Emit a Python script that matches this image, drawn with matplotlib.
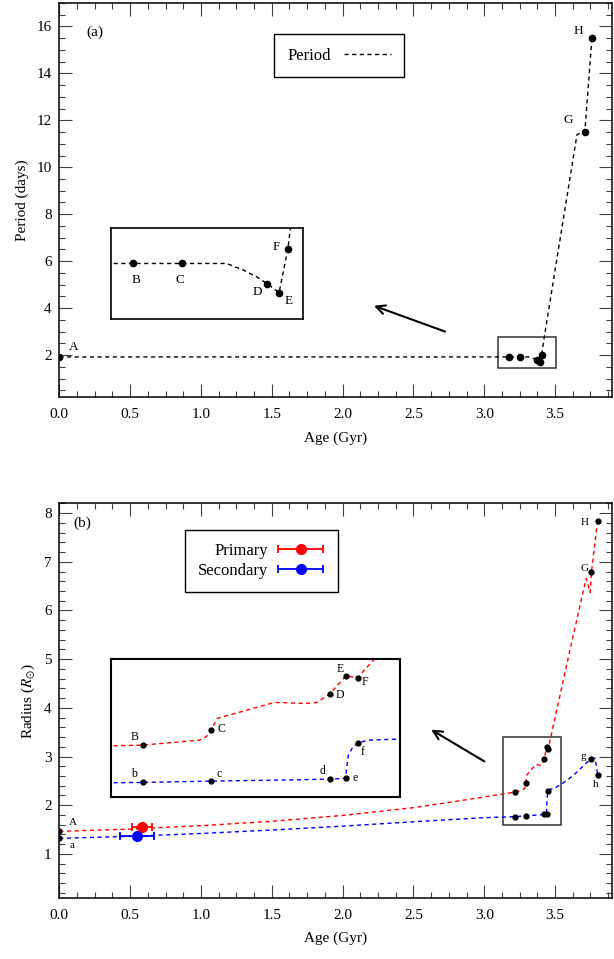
import matplotlib
matplotlib.use('Agg')
import matplotlib.pyplot as plt
from matplotlib.patches import Rectangle
from matplotlib.ticker import MultipleLocator, FormatStrFormatter
from matplotlib.container import ErrorbarContainer
from matplotlib.legend_handler import HandlerErrorbar

plt.rcParams['font.family'] = ['Liberation Serif', 'DejaVu Serif']
plt.rcParams['mathtext.fontset'] = 'stix'

# ---- panel (a): orbital period track ----
age_p = [0.0, 3.178, 3.249, 3.315, 3.340, 3.359, 3.375, 3.392, 3.405, 3.43, 3.655, 3.71, 3.76]
period = [1.92, 1.92, 1.92, 1.92, 1.874, 1.829, 1.78, 1.72, 2.02, 3.0, 11.4, 11.5, 15.5]

pt_names_p = ['A', 'B', 'C', 'D', 'E', 'F', 'G', 'H']
pt_age_p = [0.0, 3.178, 3.249, 3.375, 3.392, 3.405, 3.71, 3.76]
pt_period = [1.92, 1.92, 1.92, 1.78, 1.72, 2.02, 11.5, 15.5]

# ---- panel (b): radius tracks ----
age_r1 = [0.0, 0.5, 1.0, 1.5, 2.0, 2.5, 2.8, 3.0, 3.186, 3.220, 3.282, 3.289, 3.294, 3.301,
          3.320, 3.363, 3.396, 3.409, 3.423, 3.440, 3.453, 3.470, 3.619, 3.720, 3.748, 3.757, 3.800]
rad1 = [1.463, 1.51, 1.58, 1.67, 1.79, 1.95, 2.08, 2.17, 2.256, 2.265, 2.332, 2.377, 2.466, 2.622,
        2.688, 2.836, 2.822, 2.836, 2.950, 3.188, 3.165, 3.40, 5.37, 6.66, 6.37, 6.79, 7.84]

age_r2 = [0.0, 0.5, 1.0, 1.5, 2.0, 2.5, 3.0, 3.186, 3.220, 3.294, 3.390, 3.423, 3.440, 3.441,
          3.443, 3.448, 3.453, 3.463, 3.495, 3.583, 3.654, 3.725, 3.757, 3.783, 3.800]
rad2 = [1.32, 1.36, 1.42, 1.49, 1.57, 1.66, 1.745, 1.762, 1.766, 1.784, 1.802, 1.811, 1.820, 1.954,
        2.132, 2.243, 2.288, 2.33, 2.345, 2.506, 2.68, 2.88, 2.945, 2.97, 2.63]

pt_names_1 = ['A', 'B', 'C', 'D', 'E', 'F', 'G', 'H']
pt_age_1 = [0.0, 3.220, 3.294, 3.423, 3.440, 3.453, 3.757, 3.800]
pt_rad1 = [1.463, 2.265, 2.466, 2.950, 3.188, 3.165, 6.79, 7.84]

pt_names_2 = ['a', 'b', 'c', 'd', 'e', 'f', 'g', 'h']
pt_age_2 = [0.0, 3.220, 3.294, 3.423, 3.440, 3.453, 3.757, 3.800]
pt_rad2 = [1.32, 1.766, 1.784, 1.811, 1.820, 2.288, 2.945, 2.63]

# observed components
obs_names = ['Primary', 'Secondary']
obs_age = [0.585, 0.549]
obs_age_err = [0.07, 0.12]
obs_rad = [1.545, 1.37]
obs_colors = ['red', 'blue']

DASH = (0, (3, 2.5))

# label offsets (points) for the model points
off_main_a = {'A': (10, 7), 'G': (-12, 8.5), 'H': (-10, 5.5)}
off_ins_a = {'B': (2, -12), 'C': (-1, -12), 'D': (-7, -6), 'E': (7, -6), 'F': (-8.5, 1)}
off_main_b = {'A': (10, 6.5), 'a': (9, -5), 'G': (-5, 2.5), 'H': (-9.5, -1.5),
              'g': (-6, 2), 'h': (-1, -7.5)}
off_ins_b = {'B': (-6, 5.5), 'C': (7.5, 0.5), 'D': (7, -0.5), 'E': (-4, 5), 'F': (5, -3),
             'b': (-6.5, 6), 'c': (6, 5), 'd': (-5, 5.5), 'e': (7, 0.5), 'f': (3.5, -6)}


def style_axes(ax, ymaj, ymin):
    ax.set_xlim(0, 3.9)
    ax.xaxis.set_major_locator(MultipleLocator(0.5))
    ax.xaxis.set_minor_locator(MultipleLocator(0.125))
    ax.yaxis.set_major_locator(MultipleLocator(ymaj))
    ax.yaxis.set_minor_locator(MultipleLocator(ymin))
    ax.xaxis.set_major_formatter(FormatStrFormatter('%.1f'))
    ax.yaxis.set_major_formatter(FormatStrFormatter('%d'))
    ax.tick_params(which='both', direction='in', top=True, right=True, width=0.8, color='0.25',
                   labelsize=11)
    ax.tick_params(which='major', length=9.5)
    ax.tick_params(which='minor', length=4.5)
    ax.tick_params(axis='x', pad=8)
    ax.tick_params(axis='y', pad=5.5)
    for s in ax.spines.values():
        s.set_linewidth(1.1)
    ax.set_xlabel('Age (Gyr)', fontsize=11, labelpad=7)


def label_points(ax, names, xs, ys, offsets, size):
    for n, x, y in zip(names, xs, ys):
        if n in offsets:
            ax.annotate(n, (x, y), xytext=offsets[n], textcoords='offset points',
                        ha='center', va='center', fontsize=size)


def bare(ax, lw):
    ax.set_xticks([])
    ax.set_yticks([])
    for s in ax.spines.values():
        s.set_linewidth(lw)


fig = plt.figure(figsize=(6.14, 9.59), dpi=100)

# ================= panel (a) =================
ax1 = fig.add_axes([0.0966, 0.5857, 0.8997, 0.4112])
ax1.plot(age_p, period, ls=DASH, color='k', lw=1.0, label='Period')
ax1.plot(pt_age_p, pt_period, 'o', color='k', ms=4.5)
label_points(ax1, pt_names_p, pt_age_p, pt_period, off_main_a, 9.5)
ax1.add_patch(Rectangle((3.10, 1.45), 0.41, 1.30, fill=False, ec='0.2', lw=1.1))
ax1.annotate('', xy=(2.203, 4.14), xytext=(2.742, 2.96),
             arrowprops=dict(arrowstyle='->', color='k', lw=1.5, mutation_scale=16))
ax1.text(0.065, 0.925, '(a)', transform=ax1.transAxes, ha='center', va='center', fontsize=11)
ax1.set_ylim(0.2, 17)
style_axes(ax1, 2, 0.5)
ax1.set_ylabel('Period (days)', fontsize=11, labelpad=5)
leg = ax1.legend(loc='center', bbox_to_anchor=(0.507, 0.866), fancybox=False, edgecolor='k',
                 markerfirst=False, handlelength=2.8, fontsize=12, borderpad=0.8,
                 framealpha=1)
leg.get_frame().set_linewidth(1.0)

ins1 = ax1.inset_axes([0.0930, 0.1978, 0.3488, 0.2328])
ins1.plot(age_p, period, ls=DASH, color='k', lw=1.0)
ins1.plot(pt_age_p, pt_period, 'o', color='k', ms=4.5)
label_points(ins1, pt_names_p, pt_age_p, pt_period, off_ins_a, 9.5)
ins1.set_xlim(3.1447, 3.4277)
ins1.set_ylim(1.538, 2.166)
bare(ins1, 1.2)

# ================= panel (b) =================
ax2 = fig.add_axes([0.0966, 0.0639, 0.8997, 0.4112])
ax2.plot(age_r1, rad1, ls=DASH, color='red', lw=1.0)
ax2.plot(age_r2, rad2, ls=DASH, color='blue', lw=1.0)
ax2.plot(pt_age_1, pt_rad1, 'o', color='k', ms=3.5)
ax2.plot(pt_age_2, pt_rad2, 'o', color='k', ms=3.5)
label_points(ax2, pt_names_1, pt_age_1, pt_rad1, off_main_b, 8)
label_points(ax2, pt_names_2, pt_age_2, pt_rad2, off_main_b, 8)
for n, x, xe, y, c in zip(obs_names, obs_age, obs_age_err, obs_rad, obs_colors):
    ax2.errorbar(x, y, xerr=xe, fmt='o', color=c, ms=7, capsize=3, elinewidth=1.3,
                 capthick=1.3, label=n)
ax2.add_patch(Rectangle((3.135, 1.60), 0.405, 1.80, fill=False, ec='0.2', lw=1.1))
ax2.annotate('', xy=(2.609, 3.58), xytext=(3.018, 2.87),
             arrowprops=dict(arrowstyle='->', color='k', lw=1.5, mutation_scale=16))
ax2.text(0.041, 0.949, '(b)', transform=ax2.transAxes, ha='center', va='center', fontsize=11)
ax2.set_ylim(0.1, 8.2)
style_axes(ax2, 1, 0.2)
ax2.set_ylabel('Radius ($R_{\\odot}$)', fontsize=11, labelpad=5)
leg2 = ax2.legend(loc='center', bbox_to_anchor=(0.366, 0.854), fancybox=False, edgecolor='k',
                  markerfirst=False, handlelength=2.9, fontsize=12, borderpad=0.8,
                  labelspacing=0.2, framealpha=1, handletextpad=0.5,
                  handler_map={ErrorbarContainer: HandlerErrorbar(xerr_size=1.35)})
leg2.get_frame().set_linewidth(1.0)

ins2 = ax2.inset_axes([0.0936, 0.2561, 0.5232, 0.3491])
ins2.plot(age_r1, rad1, ls=DASH, color='red', lw=1.0)
ins2.plot(age_r2, rad2, ls=DASH, color='blue', lw=1.0)
ins2.plot(pt_age_1, pt_rad1, 'o', color='k', ms=3.5)
ins2.plot(pt_age_2, pt_rad2, 'o', color='k', ms=3.5)
label_points(ins2, pt_names_1, pt_age_1, pt_rad1, off_ins_b, 8.5)
label_points(ins2, pt_names_2, pt_age_2, pt_rad2, off_ins_b, 8.5)
ins2.set_xlim(3.1857, 3.499)
ins2.set_ylim(1.575, 3.415)
bare(ins2, 1.5)

fig.savefig('out.png', dpi=100)
